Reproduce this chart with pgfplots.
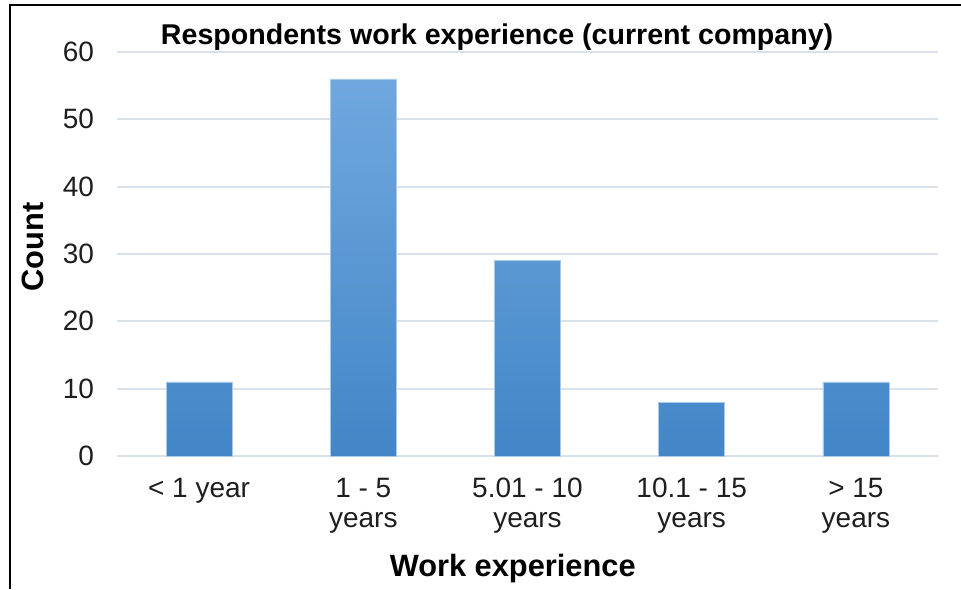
\documentclass[border=0pt]{standalone}
\usepackage{pgfplots}
\pgfplotsset{compat=1.18}
\usepackage{fontspec}
\setmainfont{Liberation Sans}
\definecolor{barTop}{RGB}{112,168,222}
\definecolor{barBot}{RGB}{66,134,199}
\definecolor{gridc}{RGB}{217,225,235}
\definecolor{txt}{RGB}{30,30,30}
\begin{document}
\begin{tikzpicture}
\useasboundingbox (-58.5pt,-66.5pt) rectangle (422pt,228pt);
\begin{axis}[
  scale only axis,
  width=410.5pt, height=202pt,
  at={(0,0)}, anchor=south west,
  xmin=-0.5, xmax=4.5, ymin=0, ymax=60,
  ytick={0,10,20,30,40,50,60},
  xtick={0,1,2,3,4},
  xticklabels={{< 1 year},{1 - 5\\years},{5.01 - 10\\years},{10.1 - 15\\years},{> 15\\years}},
  axis line style={draw=none},
  major tick length=0pt,
  ymajorgrids,
  grid style={color=gridc, line width=1pt},
  /pgf/number format/assume math mode=true,
  tick label style={font=\fontsize{14}{15}\selectfont, text=txt},
  xticklabel style={align=center, anchor=north, yshift=-7.5pt},
  yticklabel style={anchor=east, xshift=-8pt},
  title={\textbf{Respondents work experience (current company)}},
  title style={at={(axis description cs:0.463,0.990)}, anchor=base, font=\fontsize{14.3}{16}\selectfont, text=black},
  xlabel={\textbf{Work experience}},
  xlabel style={at={(axis description cs:0.482,-0.279)}, anchor=center, font=\fontsize{15.4}{17}\selectfont, text=black},
  ylabel={\textbf{Count}},
  ylabel style={at={(axis description cs:-0.102,0.517)}, anchor=center, rotate=0, font=\fontsize{15.4}{17}\selectfont, text=black},
  clip=false,
]
\addplot[ybar, bar width=33pt, draw=barTop!60!white, line width=0.3pt, top color=barTop, bottom color=barBot]
  coordinates {(0,11) (1,56) (2,29) (3,8) (4,11)};
\end{axis}
\draw[line width=1pt, black] (-53.5pt,-66.5pt) -- (-53.5pt,225.5pt) -- (422pt,225.5pt);
\end{tikzpicture}
\end{document}
